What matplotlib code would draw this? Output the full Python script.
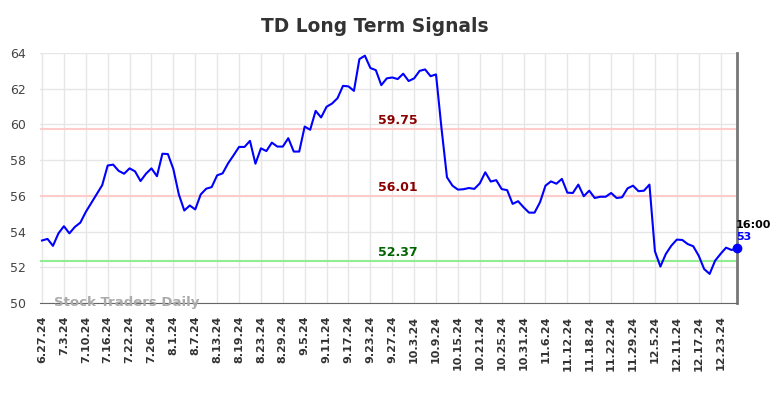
import numpy as np
import matplotlib.pyplot as plt

# TD closing values (one per trading day, 6.27.24 -> 12.27.24)
prices = [53.50, 53.59, 53.20, 53.90, 54.30, 53.90, 54.26, 54.50, 55.10, 55.60,
          56.10, 56.60, 57.70, 57.75, 57.40, 57.24, 57.54, 57.37, 56.83, 57.24,
          57.54, 57.10, 58.36, 58.34, 57.50, 56.08, 55.18, 55.46, 55.24, 56.08,
          56.40, 56.49, 57.15, 57.26, 57.82, 58.27, 58.74, 58.74, 59.08, 57.80,
          58.66, 58.51, 58.98, 58.76, 58.76, 59.23, 58.48, 58.48, 59.88, 59.70,
          60.76, 60.39, 60.99, 61.17, 61.47, 62.16, 62.13, 61.88, 63.66, 63.85,
          63.16, 63.04, 62.20, 62.58, 62.63, 62.54, 62.84, 62.43, 62.58, 63.00,
          63.08, 62.70, 62.80, 59.78, 57.04, 56.57, 56.35, 56.37, 56.44, 56.39,
          56.70, 57.32, 56.80, 56.88, 56.38, 56.32, 55.55, 55.70, 55.36, 55.06,
          55.06, 55.64, 56.57, 56.81, 56.68, 56.95, 56.18, 56.16, 56.63, 55.98,
          56.29, 55.88, 55.95, 55.95, 56.16, 55.88, 55.92, 56.42, 56.57, 56.26,
          56.29, 56.63, 52.90, 52.04, 52.75, 53.21, 53.55, 53.53, 53.30, 53.18,
          52.65, 51.90, 51.63, 52.37, 52.75, 53.10, 52.97, 53.06]

tick_labels = ["6.27.24", "7.3.24", "7.10.24", "7.16.24", "7.22.24", "7.26.24",
               "8.1.24", "8.7.24", "8.13.24", "8.19.24", "8.23.24", "8.29.24",
               "9.5.24", "9.11.24", "9.17.24", "9.23.24", "9.27.24", "10.3.24",
               "10.9.24", "10.15.24", "10.21.24", "10.25.24", "10.31.24", "11.6.24",
               "11.12.24", "11.18.24", "11.22.24", "11.29.24", "12.5.24", "12.11.24",
               "12.17.24", "12.23.24"]

upper = 59.75
middle = 56.01
lower = 52.37

x = np.arange(len(prices))
tick_pos = np.arange(len(tick_labels)) * 4

fig = plt.figure(figsize=(7.84, 3.98), dpi=100)
ax = fig.add_axes([40/784, 1-303/398, 697/784, 250/398])

ax.set_xlim(-0.37, len(prices) - 1)
ax.set_ylim(50, 64)
ax.set_yticks(np.arange(50, 65, 2))
ax.set_xticks(tick_pos)
ax.set_xticklabels(tick_labels, rotation=90, fontsize=8, fontweight="bold", color="#333333")
ax.tick_params(axis="y", labelsize=9, colors="#444444", length=0, pad=10)
ax.tick_params(axis="x", length=0, pad=9)
ax.grid(True, color="#e6e6e6", linewidth=1)
ax.set_axisbelow(True)

for side in ["top", "left"]:
    ax.spines[side].set_visible(False)
ax.spines["bottom"].set_color("#666666")
ax.spines["right"].set_color("#777777")
ax.spines["right"].set_linewidth(2)

# signal lines
ax.axhline(upper, color="#ffcccc", linewidth=1.5)
ax.axhline(middle, color="#ffcccc", linewidth=1.5)
ax.axhline(lower, color="#90ee90", linewidth=1.5)
mid_x = 65
ax.text(mid_x, upper + 0.1, f"{upper:.2f}", color="#8b0000", fontsize=9, fontweight="bold", ha="center", va="bottom")
ax.text(mid_x, middle + 0.1, f"{middle:.2f}", color="#8b0000", fontsize=9, fontweight="bold", ha="center", va="bottom")
ax.text(mid_x, lower + 0.1, f"{lower:.2f}", color="#006400", fontsize=9, fontweight="bold", ha="center", va="bottom")

ax.plot(x, prices, color="blue", linewidth=1.5, zorder=3)
ax.plot(x[-1], prices[-1], "o", color="blue", markersize=6, zorder=4, clip_on=False)
ax.text(x[-1] - 0.2, prices[-1] + 1.05, "16:00", fontsize=8, fontweight="bold", color="black", ha="left", va="bottom")
ax.text(x[-1] - 0.2, prices[-1] + 0.35, f"{prices[-1]:.0f}", fontsize=8, fontweight="bold", color="blue", ha="left", va="bottom")

ax.text(2.2, 50.0, "Stock Traders Daily", fontsize=9.5, fontweight="bold", color="#aaaaaa",
        ha="left", va="center", zorder=5, clip_on=False)

fig.text(0.478, 1-26/398, "TD Long Term Signals", fontsize=13.4, fontweight="bold", color="#333333",
         ha="center", va="center")

fig.savefig("out.png", dpi=100)
